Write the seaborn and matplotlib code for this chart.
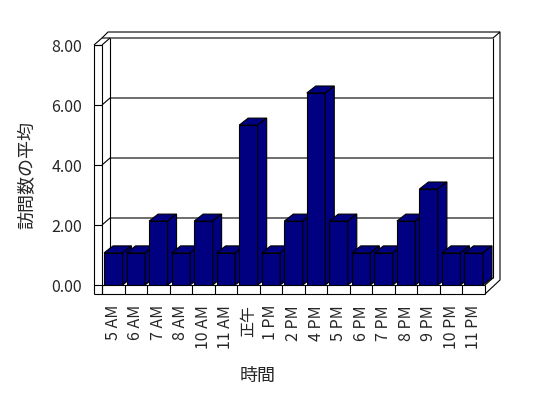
import matplotlib
matplotlib.use("Agg")
import matplotlib.pyplot as plt
import seaborn as sns
import pandas as pd

# data
hours = ["5 AM", "6 AM", "7 AM", "8 AM", "10 AM", "11 AM", "正午", "1 PM", "2 PM",
         "4 PM", "5 PM", "6 PM", "7 PM", "8 PM", "9 PM", "10 PM", "11 PM"]
avg_visits = [1.07, 1.07, 2.13, 1.07, 2.13, 1.07, 5.33, 1.07, 2.13,
              6.4, 2.13, 1.07, 1.07, 2.13, 3.2, 1.07, 1.07]
yticks = [0, 2, 4, 6, 8]
ytick_labels = ["0.00", "2.00", "4.00", "6.00", "8.00"]

df = pd.DataFrame({"時間": hours, "訪問数の平均": avg_visits})

sns.set_style("white")
plt.rcParams["font.family"] = ["Noto Sans CJK JP", "DejaVu Sans"]

navy = "#000080"
W, H = 548, 398
fig = plt.figure(figsize=(W / 100, H / 100), dpi=100)

# front plane of the 3D box, in pixels
x0, x1, ytop, ybot = 102, 485, 45, 285
ax = fig.add_axes([x0 / W, 1 - ybot / H, (x1 - x0) / W, (ybot - ytop) / H])
ax.patch.set_alpha(0)
n = len(hours)

sns.barplot(data=df, x="時間", y="訪問数の平均", color=navy, saturation=1,
            width=0.82, edgecolor="black", linewidth=0.8, ax=ax)
ax.set_xlim(-0.5, n - 0.5)
ax.set_ylim(0, 8)

sx = n / (x1 - x0)      # data units per pixel
sy = 8 / (ybot - ytop)


def P(x, y, px=0, py=0):
    # data point shifted by a pixel offset (py up)
    return (x + px * sx, y + py * sy)


def line(*pts, z=1):
    xs, ys = zip(*pts)
    ax.plot(xs, ys, color="black", lw=0.8, clip_on=False, zorder=z,
            solid_capstyle="butt")


L, R = -0.5, n - 0.5

# back wall gridlines + left wall diagonals + ticks
for v in yticks:
    line(P(L, v, -8, 0), P(L, v))
    if v > 0:
        line(P(L, v), P(L, v, 8, 7), P(R, v, 8, 7))

# left wall
line(P(L, 8, -8, 0), P(L, 0, -8, -9))
line(P(L, 8, -8, 0), P(L, 8))
line(P(L, 8), P(L, 0, 0, -9))
line(P(L, 8, -8, 0), P(L, 8, 0, 7), P(L, 8, 8, 7))
line(P(L, 8, 8, 7), P(L, 0, 8, 7))

# back wall edges
line(P(R, 0, 8, 7), P(R, 8, 8, 7))
line(P(L, 8, 0, 7), P(L, 8, 6, 13), P(R, 8, 15, 13))
line(P(R, 8, 8, 7), P(R, 8, 15, 13), P(R, 0, 15, 5), P(R, 0, 0, -9))

# floor
line(P(L, 0), P(R, 0))
line(P(L, 0, -8, -9), P(R, 0, 0, -9))
for k in range(n + 1):
    line(P(k - 0.5, 0), P(k - 0.5, 0, 0, -9))
line(P(R, 0), P(R, 0, 8, 7))

# give the bars a top and a side face
for i, bar in enumerate(ax.patches):
    bx, bw, bh = bar.get_x(), bar.get_width(), bar.get_height()
    bar.set_zorder(10 + 2 * i)
    top = [P(bx, bh), P(bx + bw, bh), P(bx + bw, bh, 9, 7), P(bx, bh, 9, 7)]
    side = [P(bx + bw, 0), P(bx + bw, 0, 9, 7), P(bx + bw, bh, 9, 7), P(bx + bw, bh)]
    for pts in (top, side):
        ax.add_patch(plt.Polygon(pts, closed=True, fc=navy, ec="black", lw=0.8,
                                 zorder=11 + 2 * i, clip_on=False))

for s in ax.spines.values():
    s.set_visible(False)

ax.set_yticks(yticks)
ax.set_yticklabels(ytick_labels)
ax.tick_params(axis="y", length=0, pad=14.4, labelsize=11.5)
ax.tick_params(axis="x", length=0, pad=14.4, labelsize=11.5, labelrotation=90)

ax.set_xlabel("時間", fontsize=13)
ax.set_ylabel("訪問数の平均", fontsize=13)
ax.xaxis.set_label_coords((258 - x0) / (x1 - x0), (ybot - 367) / (ybot - ytop))
ax.yaxis.set_label_coords((36 - x0) / (x1 - x0), (ybot - 175) / (ybot - ytop))

fig.savefig("out.png", dpi=100)
